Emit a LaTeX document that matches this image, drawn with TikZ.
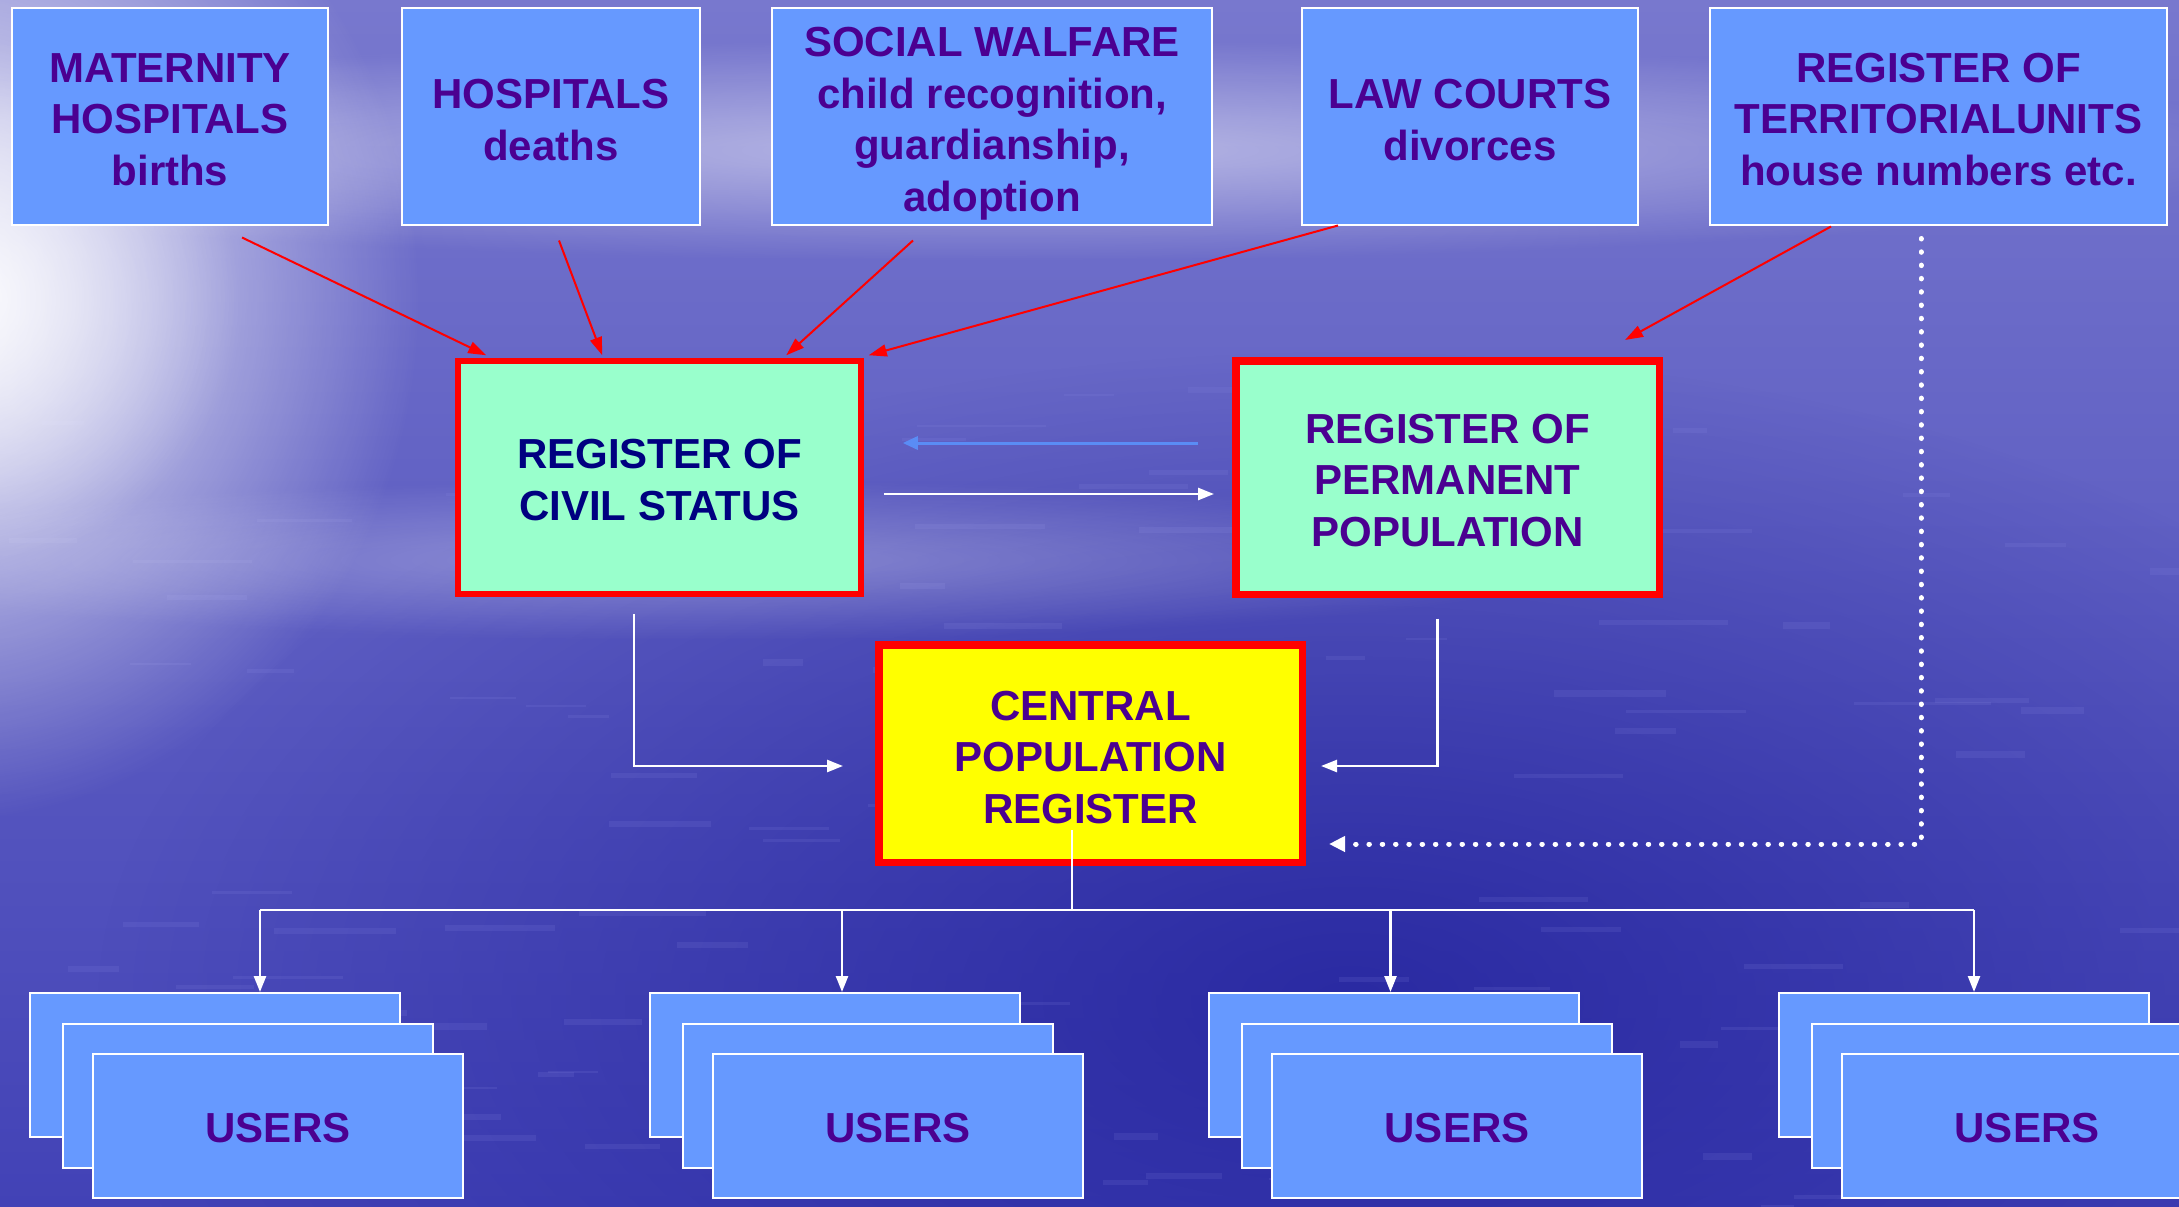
\documentclass[tikz,border=0pt]{standalone}
\usepackage{fontspec}
\setmainfont{Liberation Sans}
\usetikzlibrary{arrows.meta,fadings}
\definecolor{boxblue}{HTML}{6699FF}
\definecolor{purp}{HTML}{4B0091}
\definecolor{navyt}{HTML}{000080}
\definecolor{mint}{HTML}{99FFCC}
\definecolor{yel}{HTML}{FFFF00}
\definecolor{redb}{HTML}{FF0000}
\definecolor{lblue}{HTML}{5A8CF5}
\definecolor{bgTop}{RGB}{120,120,206}
\definecolor{bgMid}{RGB}{82,82,190}
\definecolor{bgBot}{RGB}{66,66,182}
\definecolor{bgDark}{RGB}{36,36,158}
\definecolor{streak}{RGB}{140,140,230}
\tikzfading[name=softglow, inner color=transparent!0, outer color=transparent!100]
\begin{document}
\begin{tikzpicture}[x=1pt,y=-1pt,
 txt/.style={font=\bfseries\fontsize{42}{51.5}\selectfont, align=center, text=purp},
 srcbox/.style={fill=boxblue, draw=white, line width=2pt, inner sep=0pt, minimum height=216pt},
 regbox/.style={fill=mint, draw=redb, line width=5.5pt, inner sep=0pt},
 userbox/.style={fill=boxblue, draw=white, line width=2pt, inner sep=0pt, minimum width=370pt, minimum height=144pt},
 redarr/.style={draw=redb, line width=2pt, -{Triangle[length=18pt,width=12pt]}},
 whitearr/.style={draw=white, line width=2.5pt, -{Triangle[length=16pt,width=12pt]}},
 wline/.style={draw=white, line width=2.5pt},
]
% background
\useasboundingbox (0,0) rectangle (2179,1207);
\shade[top color=bgTop, middle color=bgMid, bottom color=bgBot] (0,0) rectangle (2179,1207);
\fill[bgDark, opacity=0.85, path fading=softglow] (1350,1000) ellipse (1250 and 650);
\pgfmathsetseed{7}
\foreach \k in {1,...,110}{
  \pgfmathsetmacro{\sx}{rnd*2179}
  \pgfmathsetmacro{\sy}{380+rnd*827}
  \pgfmathsetmacro{\sl}{30+rnd*110}
  \pgfmathsetmacro{\sh}{2+rnd*5}
  \fill[streak, opacity=0.14] (\sx,\sy) rectangle ({\sx+\sl},{\sy+\sh});
}
\fill[white, opacity=0.5, path fading=softglow] (1000,150) ellipse (1300 and 110);
\fill[white, opacity=0.3, path fading=softglow] (700,560) ellipse (900 and 80);
\fill[white, opacity=0.95, path fading=softglow] (-60,300) ellipse (480 and 520);
\fill[white, opacity=0.7, path fading=softglow] (-20,300) ellipse (260 and 260);

% source boxes
\node[srcbox, minimum width=316pt, label={[txt, yshift=-3pt]center:MATERNITY\\HOSPITALS\\births}] (mat) at (170,116.5) {};
\node[srcbox, minimum width=298pt, label={[txt, yshift=-3.5pt]center:HOSPITALS\\deaths}] (hos) at (551,116.5) {};
\node[srcbox, minimum width=440pt, label={[txt, yshift=-7pt]center:SOCIAL WALFARE\\child recognition,\\guardianship,\\adoption}] (soc) at (992,116.5) {};
\node[srcbox, minimum width=336pt, label={[txt, yshift=-3.5pt]center:LAW COURTS\\divorces}] (law) at (1470,116.5) {};
\node[srcbox, minimum width=457pt, label={[txt, yshift=-3pt]center:REGISTER OF\\TERRITORIALUNITS\\house numbers etc.}] (ter) at (1938.5,116.5) {};

% registers
\node[regbox, minimum width=403pt, minimum height=233pt, label={[txt, text=navyt, yshift=-2.5pt]center:REGISTER OF\\CIVIL STATUS}] (civ) at (659.5,477.5) {};
\node[regbox, line width=7.5pt, minimum width=423.5pt, minimum height=233.5pt, label={[txt, yshift=-3pt]center:REGISTER OF\\PERMANENT\\POPULATION}] (per) at (1447.5,477.5) {};
\node[regbox, fill=yel, line width=7.5pt, minimum width=423.5pt, minimum height=217.5pt, label={[txt, yshift=-4pt]center:CENTRAL\\POPULATION\\REGISTER}] (cen) at (1090.5,753.5) {};

% users
\foreach \i/\x in {1/29,2/649,3/1208,4/1778}{
  \node[userbox, anchor=north west] (ua\i) at (\x,992) {};
  \node[userbox, anchor=north west] (ub\i) at ({\x+33},1023) {};
  \node[userbox, anchor=north west, label={[txt, yshift=-2pt]center:USERS}] (uc\i) at ({\x+63},1053) {};
}

% red arrows
\draw[redarr] ([shift={(72,12)}]mat.south) -- ([shift={(31,-3)}]civ.north west);
\draw[redarr] ([shift={(8,15)}]hos.south) -- ([shift={(147,-3)}]civ.north west);
\draw[redarr] ([shift={(-79,15)}]soc.south) -- ([shift={(331,-3)}]civ.north west);
\draw[redarr] ([shift={(37,0)}]law.south west) -- ([shift={(5,-3)}]civ.north east);
\draw[redarr] ([shift={(-107.5,1)}]ter.south) -- ([shift={(-38,-17)}]per.north east);

% between registers
\draw[draw=lblue, line width=3pt, -{Triangle[length=15pt,width=13pt]}] ([shift={(-34,-34.5)}]per.west) -- ([shift={(39,-34.5)}]civ.east);
\draw[whitearr] ([shift={(20,16.5)}]civ.east) -- ([shift={(-18,16.5)}]per.west);
\draw[whitearr] ([shift={(-25.5,17)}]civ.south) |- ([shift={(-32,12.5)}]cen.west);
\draw[whitearr] ([shift={(-10,20.5)}]per.south) |- ([shift={(15,12.5)}]cen.east);
\draw[white, line width=5pt, line cap=round, dash pattern=on 0.5pt off 12.8pt, -{Triangle[length=16pt,width=15pt]}] ([shift={(-17.5,13)}]ter.south) |- ([shift={(23,90.5)}]cen.east);

% distribution to users
\coordinate (bus) at (1072,910);
\coordinate (b1) at (260,910);
\coordinate (b2) at (842,910);
\coordinate (b3) at (1390.5,910);
\coordinate (b4) at (1974,910);
\draw[wline] ([shift={(-18.5,-36)}]cen.south) -- (bus);
\draw[wline] (b1) -- (b4);
\foreach \i in {1,2,3,4}{
  \draw[whitearr] (b\i) -- (b\i |- ua\i.north);
}
\end{tikzpicture}
\end{document}
